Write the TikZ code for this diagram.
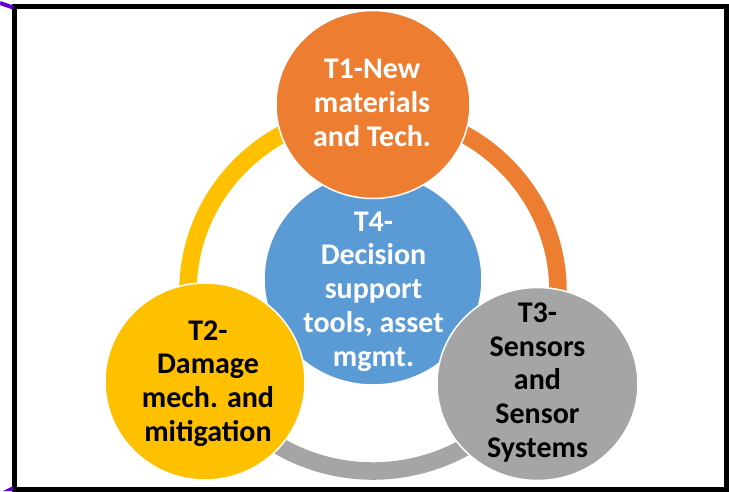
\documentclass[tikz,border=0pt]{standalone}
\usepackage{fontspec}
\setmainfont{Carlito}
\usetikzlibrary{shapes.geometric}
\definecolor{cOrange}{HTML}{ED7D31}
\definecolor{cYellow}{HTML}{FFC000}
\definecolor{cGray}{HTML}{A5A5A5}
\definecolor{cBlue}{HTML}{5B9BD5}
\definecolor{cPurple}{RGB}{100,0,210}
\tikzset{
  disc/.style={ellipse, draw=white, line width=1.5pt, inner sep=0pt},
  ringarc/.style={line width=17.5pt},
  lbl/.style={align=center, inner sep=0pt, font=\fontsize{30}{33.7}\selectfont\bfseries}
}
\begin{document}
\begin{tikzpicture}[x=1pt,y=-1pt]
\useasboundingbox (0,0) rectangle (729,491);
% ring
\coordinate (rc) at (373,291);
\draw[ringarc, cYellow] (rc) ++(150:185 and 180) arc[start angle=150, end angle=270, x radius=185, y radius=180];
\draw[ringarc, cGray] (rc) ++(30:185 and 180) arc[start angle=30, end angle=150, x radius=185, y radius=180];
\draw[ringarc, cOrange] (rc) ++(-90:185 and 180) arc[start angle=-90, end angle=30, x radius=185, y radius=180];
% discs
\node[disc, fill=cBlue, minimum width=218pt, minimum height=212pt] (t4) at (373,279) {};
\node[disc, fill=cOrange, minimum width=194pt, minimum height=188pt] (t1) at (373,104.5) {};
\node[disc, fill=cYellow, minimum width=200pt, minimum height=197pt] (t2) at (205,381.5) {};
\node[disc, fill=cGray, minimum width=201pt, minimum height=193pt] (t3) at (537.5,384) {};
% labels
\node[lbl, text=white] (t1l) at (372,103) {T1-New\\materials\\and Tech.};
\node[lbl, text=white] (t4l) at (373.5,291.5) {T4-\\Decision\\support\\tools, asset\\mgmt.};
\node[lbl, text=black] (t2l) at (208,383.5) {T2-\\Damage\\mech. and\\mitigation};
\node[lbl, text=black] (t3l) at (537.5,382.5) {T3-\\Sensors\\and\\Sensor\\Systems};
% frame
\draw[line width=4.5pt] (14.5,6.5) rectangle (726.5,489.5);
% purple marks
\draw[cPurple, line width=4pt] (0,3) -- (13,7.5);
\fill[cPurple] (3,491) -- (13,486) -- (13,491) -- cycle;
\end{tikzpicture}
\end{document}
